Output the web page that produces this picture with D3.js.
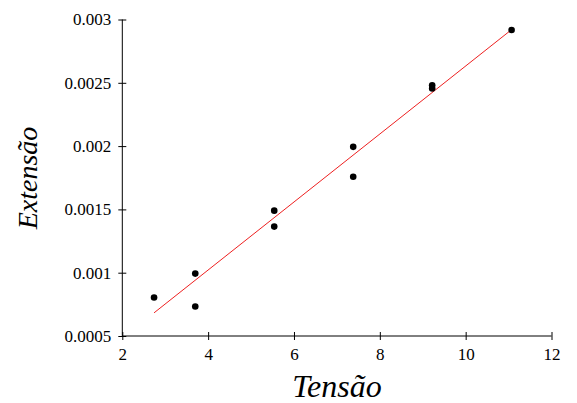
<!DOCTYPE html>
<html>
<head>
<meta charset="utf-8">
<script src="https://cdn.jsdelivr.net/npm/d3@7"></script>
<style>
  body { margin: 0; background: #fff; }
  text { font-family: "Liberation Serif", "Times New Roman", Times, "DejaVu Serif", serif; }
  .axis path, .axis line { stroke: #000; stroke-width: 1; }
</style>
</head>
<body>
<div id="chart"></div>
<script>
// measured points (tensão, extensão)
var tensao   = [2.74, 3.70, 3.70, 5.54, 5.54, 7.38, 7.38, 9.22, 9.22, 11.07];
var extensao = [0.000804, 0.000993, 0.000733, 0.00149, 0.001364, 0.001994, 0.001758, 0.00248, 0.002455, 0.002917];

// fitted line, ends
var fitX = [2.74, 11.07];
var fitY = [0.000683, 0.00292];

var xTicks = [2, 4, 6, 8, 10, 12];
var yTicks = [0.0005, 0.001, 0.0015, 0.002, 0.0025, 0.003];

var serif = "'Liberation Serif', 'Times New Roman', Times, 'DejaVu Serif', serif";

var svgWidth = 577;
var svgHeight = 403;

var margin = {top: 19.5, right: 25.5, bottom: 67, left: 122.3};
var chartWidth = svgWidth - margin.left - margin.right;
var chartHeight = svgHeight - margin.top - margin.bottom;

var svg = d3.select("#chart")
  .append("svg")
  .attr("width", svgWidth)
  .attr("height", svgHeight);

var chartGroup = svg.append("g")
  .attr("transform", `translate(${margin.left}, ${margin.top})`);

var xScale = d3.scaleLinear().domain([2, 12]).range([0, chartWidth]);
var yScale = d3.scaleLinear().domain([0.0005, 0.003]).range([chartHeight, 0]);

var bottomAxis = d3.axisBottom(xScale)
  .tickValues(xTicks)
  .tickFormat(d3.format("d"))
  .tickSize(4)
  .tickPadding(8);

var xAxisG = chartGroup.append("g")
  .classed("axis", true)
  .attr("transform", `translate(0, ${chartHeight})`)
  .call(bottomAxis)
  .attr("font-family", serif)
  .attr("font-size", 17);
xAxisG.select(".domain").attr("d", `M0,0H${chartWidth}`);
xAxisG.selectAll(".tick line").attr("y1", -4);
xAxisG.selectAll("text").attr("fill", "#000");

var leftAxis = d3.axisLeft(yScale)
  .tickValues(yTicks)
  .tickFormat(d => String(+d.toFixed(4)))
  .tickSize(4)
  .tickPadding(7);

var yAxisG = chartGroup.append("g")
  .classed("axis", true)
  .call(leftAxis)
  .attr("font-family", serif)
  .attr("font-size", 17);
yAxisG.select(".domain").attr("d", `M0,0V${chartHeight}`);
yAxisG.selectAll(".tick line").attr("x1", 4);
yAxisG.selectAll("text").attr("fill", "#000");

// fit line
var fit = fitX.map((x, i) => [x, fitY[i]]);
chartGroup.append("path")
  .datum(fit)
  .attr("fill", "none")
  .attr("stroke", "#ee2020")
  .attr("stroke-width", 1)
  .attr("d", d3.line().x(d => xScale(d[0])).y(d => yScale(d[1])));

// points
chartGroup.append("g")
  .selectAll("circle")
  .data(tensao.map((t, i) => [t, extensao[i]]))
  .enter()
  .append("circle")
  .attr("cx", d => xScale(d[0]))
  .attr("cy", d => yScale(d[1]))
  .attr("r", 3.3)
  .attr("fill", "#000");

// axis titles
svg.append("text")
  .attr("x", 337)
  .attr("y", 397)
  .attr("text-anchor", "middle")
  .attr("font-family", serif)
  .attr("font-style", "italic")
  .attr("font-size", 32)
  .text("Tensão");

svg.append("text")
  .attr("transform", "translate(37, 178) rotate(-90)")
  .attr("text-anchor", "middle")
  .attr("font-family", serif)
  .attr("font-style", "italic")
  .attr("font-size", 28)
  .text("Extensão");
</script>
</body>
</html>
